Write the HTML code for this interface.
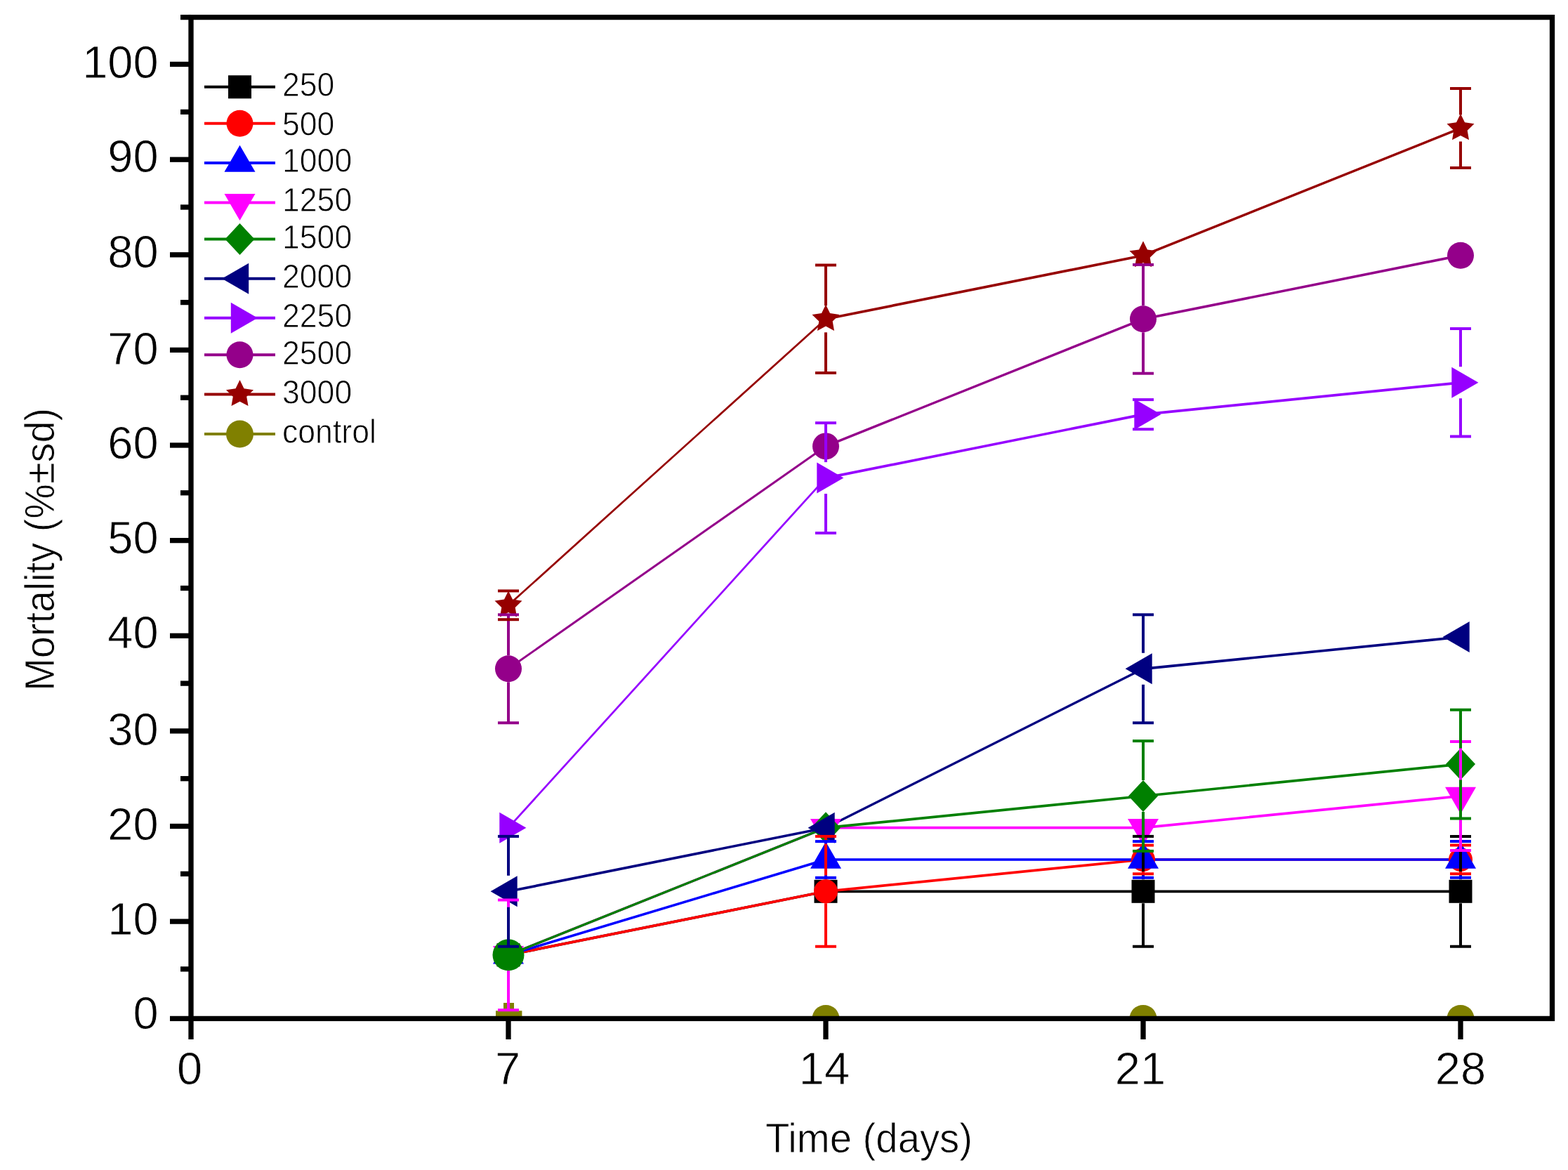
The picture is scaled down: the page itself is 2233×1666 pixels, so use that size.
<!DOCTYPE html><html><head><meta charset="utf-8"><style>html,body{margin:0;padding:0;background:#fff;overflow:hidden;}svg{display:block;}text{font-family:"Liberation Sans",Arial,sans-serif;fill:#000;stroke:#fff;stroke-width:0.8px;}</style></head><body>
<svg width="2233" height="1666" viewBox="0 0 2233 1666">
<rect width="2233" height="1666" fill="#fff"/>
<defs><clipPath id="pc"><rect x="272" y="24.6" width="1938.5" height="1425.8"/></clipPath></defs>
<g clip-path="url(#pc)">
<g fill="none" stroke-linecap="round">
<line x1="724" y1="1359.8" x2="1176" y2="1269.3" stroke="#000000" stroke-width="3.63"/>
<line x1="1176" y1="1269.3" x2="1628" y2="1269.3" stroke="#000000" stroke-width="3.70"/>
<line x1="1628" y1="1269.3" x2="2080" y2="1269.3" stroke="#000000" stroke-width="3.70"/>
<line x1="724" y1="1359.8" x2="1176" y2="1269.3" stroke="#ff0000" stroke-width="3.63"/>
<line x1="1176" y1="1269.3" x2="1628" y2="1224" stroke="#ff0000" stroke-width="3.68"/>
<line x1="1628" y1="1224" x2="2080" y2="1224" stroke="#ff0000" stroke-width="3.70"/>
<line x1="724" y1="1359.8" x2="1176" y2="1224" stroke="#0000ff" stroke-width="3.54"/>
<line x1="1176" y1="1224" x2="1628" y2="1224" stroke="#0000ff" stroke-width="3.70"/>
<line x1="1628" y1="1224" x2="2080" y2="1224" stroke="#0000ff" stroke-width="3.70"/>
<line x1="724" y1="1359.8" x2="1176" y2="1178.7" stroke="#ff00ff" stroke-width="3.43"/>
<line x1="1176" y1="1178.7" x2="1628" y2="1178.7" stroke="#ff00ff" stroke-width="3.70"/>
<line x1="1628" y1="1178.7" x2="2080" y2="1133.5" stroke="#ff00ff" stroke-width="3.68"/>
<line x1="724" y1="1359.8" x2="1176" y2="1178.7" stroke="#008000" stroke-width="3.43"/>
<line x1="1176" y1="1178.7" x2="1628" y2="1133.5" stroke="#008000" stroke-width="3.68"/>
<line x1="1628" y1="1133.5" x2="2080" y2="1088.1" stroke="#008000" stroke-width="3.68"/>
<line x1="724" y1="1269.3" x2="1176" y2="1178.7" stroke="#000080" stroke-width="3.63"/>
<line x1="1176" y1="1178.7" x2="1628" y2="952.3" stroke="#000080" stroke-width="3.31"/>
<line x1="1628" y1="952.3" x2="2080" y2="907" stroke="#000080" stroke-width="3.68"/>
<line x1="724" y1="1178.7" x2="1176" y2="680.6" stroke="#9600ff" stroke-width="2.74"/>
<line x1="1176" y1="680.6" x2="1628" y2="590.1" stroke="#9600ff" stroke-width="3.63"/>
<line x1="1628" y1="590.1" x2="2080" y2="544.8" stroke="#9600ff" stroke-width="3.68"/>
<line x1="724" y1="952.3" x2="1176" y2="635.4" stroke="#94008a" stroke-width="3.03"/>
<line x1="1176" y1="635.4" x2="1628" y2="454.3" stroke="#94008a" stroke-width="3.43"/>
<line x1="1628" y1="454.3" x2="2080" y2="363.7" stroke="#94008a" stroke-width="3.63"/>
<line x1="724" y1="861.8" x2="1176" y2="454.3" stroke="#960000" stroke-width="2.75"/>
<line x1="1176" y1="454.3" x2="1628" y2="363.7" stroke="#960000" stroke-width="3.63"/>
<line x1="1628" y1="363.7" x2="2080" y2="182.6" stroke="#960000" stroke-width="3.43"/>
<line x1="724" y1="1450.4" x2="1176" y2="1450.4" stroke="#808000" stroke-width="3.70"/>
<line x1="1176" y1="1450.4" x2="1628" y2="1450.4" stroke="#808000" stroke-width="3.70"/>
<line x1="1628" y1="1450.4" x2="2080" y2="1450.4" stroke="#808000" stroke-width="3.70"/>
</g>
<rect x="707.5" y="1343.3" width="33" height="33" fill="#000000"/>
<rect x="1159.5" y="1252.8" width="33" height="33" fill="#000000"/>
<rect x="1611.5" y="1252.8" width="33" height="33" fill="#000000"/>
<rect x="2063.5" y="1252.8" width="33" height="33" fill="#000000"/>
<circle cx="724" cy="1359.8" r="17" fill="#ff0000"/>
<circle cx="1176" cy="1269.3" r="17" fill="#ff0000"/>
<circle cx="1628" cy="1224" r="17" fill="#ff0000"/>
<circle cx="2080" cy="1224" r="17" fill="#ff0000"/>
<polygon points="724,1334.4 746,1372.5 702,1372.5" fill="#0000ff"/>
<polygon points="1176,1198.6 1198,1236.7 1154,1236.7" fill="#0000ff"/>
<polygon points="1628,1198.6 1650,1236.7 1606,1236.7" fill="#0000ff"/>
<polygon points="2080,1198.6 2102,1236.7 2058,1236.7" fill="#0000ff"/>
<polygon points="724,1385.2 746,1347.1 702,1347.1" fill="#ff00ff"/>
<polygon points="1176,1204.1 1198,1166 1154,1166" fill="#ff00ff"/>
<polygon points="1628,1204.1 1650,1166 1606,1166" fill="#ff00ff"/>
<polygon points="2080,1158.9 2102,1120.8 2058,1120.8" fill="#ff00ff"/>
<polygon points="724,1337.3 745,1359.8 724,1382.3 703,1359.8" fill="#008000"/>
<circle cx="724" cy="1359.8" r="22.5" fill="#008000"/>
<polygon points="1176,1156.2 1197,1178.7 1176,1201.2 1155,1178.7" fill="#008000"/>
<polygon points="1628,1111 1649,1133.5 1628,1156 1607,1133.5" fill="#008000"/>
<polygon points="2080,1065.6 2101,1088.1 2080,1110.6 2059,1088.1" fill="#008000"/>
<polygon points="698.6,1269.3 736.7,1247.3 736.7,1291.3" fill="#000080"/>
<polygon points="1150.6,1178.7 1188.7,1156.7 1188.7,1200.7" fill="#000080"/>
<polygon points="1602.6,952.3 1640.7,930.3 1640.7,974.3" fill="#000080"/>
<polygon points="2054.6,907 2092.7,885 2092.7,929" fill="#000080"/>
<polygon points="749.4,1178.7 711.3,1156.7 711.3,1200.7" fill="#9600ff"/>
<polygon points="1201.4,680.6 1163.3,658.6 1163.3,702.6" fill="#9600ff"/>
<polygon points="1653.4,590.1 1615.3,568.1 1615.3,612.1" fill="#9600ff"/>
<polygon points="2105.4,544.8 2067.3,522.8 2067.3,566.8" fill="#9600ff"/>
<circle cx="724" cy="952.3" r="19" fill="#94008a"/>
<circle cx="1176" cy="635.4" r="19" fill="#94008a"/>
<circle cx="1628" cy="454.3" r="19" fill="#94008a"/>
<circle cx="2080" cy="363.7" r="19" fill="#94008a"/>
<polygon points="724,841.3 730,853.5 743.5,855.5 733.7,865 736,878.4 724,872.1 712,878.4 714.3,865 704.5,855.5 718,853.5" fill="#960000"/>
<polygon points="1176,433.8 1182,446 1195.5,448 1185.7,457.5 1188,470.9 1176,464.5 1164,470.9 1166.3,457.5 1156.5,448 1170,446" fill="#960000"/>
<polygon points="1628,343.2 1634,355.4 1647.5,357.3 1637.7,366.8 1640,380.3 1628,373.9 1616,380.3 1618.3,366.8 1608.5,357.3 1622,355.4" fill="#960000"/>
<polygon points="2080,162.1 2086,174.3 2099.5,176.3 2089.7,185.8 2092,199.2 2080,192.9 2068,199.2 2070.3,185.8 2060.5,176.3 2074,174.3" fill="#960000"/>
<path d="M706 1439.2H743.4V1452H706Z M717 1428H732V1440H717Z" fill="#808000"/>
<circle cx="1176" cy="1450.4" r="19.5" fill="#808000"/>
<circle cx="1628" cy="1450.4" r="19.5" fill="#808000"/>
<circle cx="2080" cy="1450.4" r="19.5" fill="#808000"/>
<line x1="1628" y1="1190.9" x2="1628" y2="1252.3" stroke="#000000" stroke-width="4.0"/>
<line x1="1628" y1="1286.3" x2="1628" y2="1347.7" stroke="#000000" stroke-width="4.0"/>
<line x1="1613" y1="1190.9" x2="1643" y2="1190.9" stroke="#000000" stroke-width="4.0"/>
<line x1="1613" y1="1347.7" x2="1643" y2="1347.7" stroke="#000000" stroke-width="4.0"/>
<line x1="2080" y1="1190.9" x2="2080" y2="1252.3" stroke="#000000" stroke-width="4.0"/>
<line x1="2080" y1="1286.3" x2="2080" y2="1347.7" stroke="#000000" stroke-width="4.0"/>
<line x1="2065" y1="1190.9" x2="2095" y2="1190.9" stroke="#000000" stroke-width="4.0"/>
<line x1="2065" y1="1347.7" x2="2095" y2="1347.7" stroke="#000000" stroke-width="4.0"/>
<line x1="1176" y1="1190.9" x2="1176" y2="1252.3" stroke="#ff0000" stroke-width="4.0"/>
<line x1="1176" y1="1286.3" x2="1176" y2="1347.7" stroke="#ff0000" stroke-width="4.0"/>
<line x1="1161" y1="1190.9" x2="1191" y2="1190.9" stroke="#ff0000" stroke-width="4.0"/>
<line x1="1161" y1="1347.7" x2="1191" y2="1347.7" stroke="#ff0000" stroke-width="4.0"/>
<line x1="1628" y1="1203.6" x2="1628" y2="1207" stroke="#ff0000" stroke-width="4.0"/>
<line x1="1628" y1="1241" x2="1628" y2="1244.3" stroke="#ff0000" stroke-width="4.0"/>
<line x1="1613" y1="1203.6" x2="1643" y2="1203.6" stroke="#ff0000" stroke-width="4.0"/>
<line x1="1613" y1="1244.3" x2="1643" y2="1244.3" stroke="#ff0000" stroke-width="4.0"/>
<line x1="2080" y1="1203.6" x2="2080" y2="1207" stroke="#ff0000" stroke-width="4.0"/>
<line x1="2080" y1="1241" x2="2080" y2="1244.3" stroke="#ff0000" stroke-width="4.0"/>
<line x1="2065" y1="1203.6" x2="2095" y2="1203.6" stroke="#ff0000" stroke-width="4.0"/>
<line x1="2065" y1="1244.3" x2="2095" y2="1244.3" stroke="#ff0000" stroke-width="4.0"/>
<line x1="1176" y1="1198.1" x2="1176" y2="1201.5" stroke="#0000ff" stroke-width="4.0"/>
<line x1="1176" y1="1246.5" x2="1176" y2="1249.8" stroke="#0000ff" stroke-width="4.0"/>
<line x1="1161" y1="1198.1" x2="1191" y2="1198.1" stroke="#0000ff" stroke-width="4.0"/>
<line x1="1161" y1="1249.8" x2="1191" y2="1249.8" stroke="#0000ff" stroke-width="4.0"/>
<line x1="1628" y1="1198.1" x2="1628" y2="1201.5" stroke="#0000ff" stroke-width="4.0"/>
<line x1="1628" y1="1246.5" x2="1628" y2="1249.8" stroke="#0000ff" stroke-width="4.0"/>
<line x1="1613" y1="1198.1" x2="1643" y2="1198.1" stroke="#0000ff" stroke-width="4.0"/>
<line x1="1613" y1="1249.8" x2="1643" y2="1249.8" stroke="#0000ff" stroke-width="4.0"/>
<line x1="2080" y1="1198.1" x2="2080" y2="1201.5" stroke="#0000ff" stroke-width="4.0"/>
<line x1="2080" y1="1246.5" x2="2080" y2="1249.8" stroke="#0000ff" stroke-width="4.0"/>
<line x1="2065" y1="1198.1" x2="2095" y2="1198.1" stroke="#0000ff" stroke-width="4.0"/>
<line x1="2065" y1="1249.8" x2="2095" y2="1249.8" stroke="#0000ff" stroke-width="4.0"/>
<line x1="724" y1="1281.4" x2="724" y2="1337.3" stroke="#ff00ff" stroke-width="4.0"/>
<line x1="724" y1="1382.3" x2="724" y2="1438.2" stroke="#ff00ff" stroke-width="4.0"/>
<line x1="709" y1="1281.4" x2="739" y2="1281.4" stroke="#ff00ff" stroke-width="4.0"/>
<line x1="709" y1="1438.2" x2="739" y2="1438.2" stroke="#ff00ff" stroke-width="4.0"/>
<line x1="2080" y1="1056.1" x2="2080" y2="1111" stroke="#ff00ff" stroke-width="4.0"/>
<line x1="2080" y1="1156" x2="2080" y2="1210.9" stroke="#ff00ff" stroke-width="4.0"/>
<line x1="2065" y1="1056.1" x2="2095" y2="1056.1" stroke="#ff00ff" stroke-width="4.0"/>
<line x1="2065" y1="1210.9" x2="2095" y2="1210.9" stroke="#ff00ff" stroke-width="4.0"/>
<line x1="1628" y1="1055.1" x2="1628" y2="1111" stroke="#008000" stroke-width="4.0"/>
<line x1="1628" y1="1156" x2="1628" y2="1211.9" stroke="#008000" stroke-width="4.0"/>
<line x1="1613" y1="1055.1" x2="1643" y2="1055.1" stroke="#008000" stroke-width="4.0"/>
<line x1="1613" y1="1211.9" x2="1643" y2="1211.9" stroke="#008000" stroke-width="4.0"/>
<line x1="2080" y1="1010.7" x2="2080" y2="1065.6" stroke="#008000" stroke-width="4.0"/>
<line x1="2080" y1="1110.6" x2="2080" y2="1165.5" stroke="#008000" stroke-width="4.0"/>
<line x1="2065" y1="1010.7" x2="2095" y2="1010.7" stroke="#008000" stroke-width="4.0"/>
<line x1="2065" y1="1165.5" x2="2095" y2="1165.5" stroke="#008000" stroke-width="4.0"/>
<line x1="724" y1="1190.9" x2="724" y2="1246.8" stroke="#000080" stroke-width="4.0"/>
<line x1="724" y1="1291.8" x2="724" y2="1347.7" stroke="#000080" stroke-width="4.0"/>
<line x1="709" y1="1190.9" x2="739" y2="1190.9" stroke="#000080" stroke-width="4.0"/>
<line x1="709" y1="1347.7" x2="739" y2="1347.7" stroke="#000080" stroke-width="4.0"/>
<line x1="1628" y1="875.3" x2="1628" y2="929.8" stroke="#000080" stroke-width="4.0"/>
<line x1="1628" y1="974.8" x2="1628" y2="1029.3" stroke="#000080" stroke-width="4.0"/>
<line x1="1613" y1="875.3" x2="1643" y2="875.3" stroke="#000080" stroke-width="4.0"/>
<line x1="1613" y1="1029.3" x2="1643" y2="1029.3" stroke="#000080" stroke-width="4.0"/>
<line x1="1176" y1="602.2" x2="1176" y2="658.1" stroke="#9600ff" stroke-width="4.0"/>
<line x1="1176" y1="703.1" x2="1176" y2="759" stroke="#9600ff" stroke-width="4.0"/>
<line x1="1161" y1="602.2" x2="1191" y2="602.2" stroke="#9600ff" stroke-width="4.0"/>
<line x1="1161" y1="759" x2="1191" y2="759" stroke="#9600ff" stroke-width="4.0"/>
<line x1="1613" y1="569.1" x2="1643" y2="569.1" stroke="#9600ff" stroke-width="4.0"/>
<line x1="1613" y1="611.2" x2="1643" y2="611.2" stroke="#9600ff" stroke-width="4.0"/>
<line x1="2080" y1="468" x2="2080" y2="522.3" stroke="#9600ff" stroke-width="4.0"/>
<line x1="2080" y1="567.3" x2="2080" y2="621.5" stroke="#9600ff" stroke-width="4.0"/>
<line x1="2065" y1="468" x2="2095" y2="468" stroke="#9600ff" stroke-width="4.0"/>
<line x1="2065" y1="621.5" x2="2095" y2="621.5" stroke="#9600ff" stroke-width="4.0"/>
<line x1="724" y1="875.3" x2="724" y2="933.3" stroke="#94008a" stroke-width="4.0"/>
<line x1="724" y1="971.3" x2="724" y2="1029.3" stroke="#94008a" stroke-width="4.0"/>
<line x1="709" y1="875.3" x2="739" y2="875.3" stroke="#94008a" stroke-width="4.0"/>
<line x1="709" y1="1029.3" x2="739" y2="1029.3" stroke="#94008a" stroke-width="4.0"/>
<line x1="1628" y1="376.9" x2="1628" y2="435.3" stroke="#94008a" stroke-width="4.0"/>
<line x1="1628" y1="473.3" x2="1628" y2="531.7" stroke="#94008a" stroke-width="4.0"/>
<line x1="1613" y1="376.9" x2="1643" y2="376.9" stroke="#94008a" stroke-width="4.0"/>
<line x1="1613" y1="531.7" x2="1643" y2="531.7" stroke="#94008a" stroke-width="4.0"/>
<line x1="724" y1="841.4" x2="724" y2="842.8" stroke="#960000" stroke-width="4.0"/>
<line x1="724" y1="880.8" x2="724" y2="882.2" stroke="#960000" stroke-width="4.0"/>
<line x1="709" y1="841.4" x2="739" y2="841.4" stroke="#960000" stroke-width="4.0"/>
<line x1="709" y1="882.2" x2="739" y2="882.2" stroke="#960000" stroke-width="4.0"/>
<line x1="1176" y1="377.5" x2="1176" y2="435.3" stroke="#960000" stroke-width="4.0"/>
<line x1="1176" y1="473.3" x2="1176" y2="531" stroke="#960000" stroke-width="4.0"/>
<line x1="1161" y1="377.5" x2="1191" y2="377.5" stroke="#960000" stroke-width="4.0"/>
<line x1="1161" y1="531" x2="1191" y2="531" stroke="#960000" stroke-width="4.0"/>
<line x1="2080" y1="126.1" x2="2080" y2="163.6" stroke="#960000" stroke-width="4.0"/>
<line x1="2080" y1="201.6" x2="2080" y2="239.1" stroke="#960000" stroke-width="4.0"/>
<line x1="2065" y1="126.1" x2="2095" y2="126.1" stroke="#960000" stroke-width="4.0"/>
<line x1="2065" y1="239.1" x2="2095" y2="239.1" stroke="#960000" stroke-width="4.0"/>
</g>
<g stroke="#000" stroke-width="7.3" fill="none">
<rect x="272" y="24.6" width="1938.5" height="1425.8"/>
<line x1="242" y1="1450.4" x2="272" y2="1450.4"/>
<line x1="257" y1="1379.9" x2="272" y2="1379.9"/>
<line x1="242" y1="1312.1" x2="272" y2="1312.1"/>
<line x1="257" y1="1244.3" x2="272" y2="1244.3"/>
<line x1="242" y1="1176.5" x2="272" y2="1176.5"/>
<line x1="257" y1="1108.7" x2="272" y2="1108.7"/>
<line x1="242" y1="1040.9" x2="272" y2="1040.9"/>
<line x1="257" y1="973.1" x2="272" y2="973.1"/>
<line x1="242" y1="905.3" x2="272" y2="905.3"/>
<line x1="257" y1="837.5" x2="272" y2="837.5"/>
<line x1="242" y1="769.6" x2="272" y2="769.6"/>
<line x1="257" y1="701.8" x2="272" y2="701.8"/>
<line x1="242" y1="634" x2="272" y2="634"/>
<line x1="257" y1="566.2" x2="272" y2="566.2"/>
<line x1="242" y1="498.4" x2="272" y2="498.4"/>
<line x1="257" y1="430.6" x2="272" y2="430.6"/>
<line x1="242" y1="362.8" x2="272" y2="362.8"/>
<line x1="257" y1="295" x2="272" y2="295"/>
<line x1="242" y1="227.2" x2="272" y2="227.2"/>
<line x1="257" y1="159.4" x2="272" y2="159.4"/>
<line x1="242" y1="91.5" x2="272" y2="91.5"/>
<line x1="257" y1="24.6" x2="272" y2="24.6"/>
<line x1="272" y1="1450.4" x2="272" y2="1480"/>
<line x1="724" y1="1450.4" x2="724" y2="1480"/>
<line x1="1176" y1="1450.4" x2="1176" y2="1480"/>
<line x1="1628" y1="1450.4" x2="1628" y2="1480"/>
<line x1="2080" y1="1450.4" x2="2080" y2="1480"/>
</g>
<text transform="translate(225.6,1465.3) scale(1,1.0)" font-size="65" text-anchor="end">0</text>
<text transform="translate(225.6,1331) scale(1,1.0)" font-size="65" text-anchor="end">10</text>
<text transform="translate(225.6,1195.9) scale(1,1.0)" font-size="65" text-anchor="end">20</text>
<text transform="translate(225.6,1061.1) scale(1,1.0)" font-size="65" text-anchor="end">30</text>
<text transform="translate(225.6,922.8) scale(1,1.0)" font-size="65" text-anchor="end">40</text>
<text transform="translate(225.6,787.7) scale(1,1.0)" font-size="65" text-anchor="end">50</text>
<text transform="translate(225.6,653.4) scale(1,1.0)" font-size="65" text-anchor="end">60</text>
<text transform="translate(225.6,518.9) scale(1,1.0)" font-size="65" text-anchor="end">70</text>
<text transform="translate(225.6,380.5) scale(1,1.0)" font-size="65" text-anchor="end">80</text>
<text transform="translate(225.6,245.4) scale(1,1.0)" font-size="65" text-anchor="end">90</text>
<text transform="translate(225.6,111.1) scale(1,1.0)" font-size="65" text-anchor="end">100</text>
<text transform="translate(270,1544) scale(1,1.0)" font-size="65" text-anchor="middle">0</text>
<text transform="translate(723,1544) scale(1,1.0)" font-size="65" text-anchor="middle">7</text>
<text transform="translate(1174,1544) scale(1,1.0)" font-size="65" text-anchor="middle">14</text>
<text transform="translate(1624,1544) scale(1,1.0)" font-size="65" text-anchor="middle">21</text>
<text transform="translate(2080,1544) scale(1,1.0)" font-size="65" text-anchor="middle">28</text>
<text transform="translate(1237.5,1641) scale(1,1.05)" font-size="56.3" text-anchor="middle">Time (days)</text>
<text transform="translate(77,782.3) rotate(-90) scale(1,1.058)" font-size="55.8" text-anchor="middle">Mortality (%±sd)</text>
<line x1="291" y1="123.8" x2="392" y2="123.8" stroke="#000000" stroke-width="4"/>
<rect x="325" y="107.3" width="33" height="33" fill="#000000"/>
<text transform="translate(402,136.8) scale(1,1.08)" font-size="44.6">250</text>
<line x1="291" y1="175.8" x2="392" y2="175.8" stroke="#ff0000" stroke-width="4"/>
<circle cx="341.5" cy="175.8" r="19" fill="#ff0000"/>
<text transform="translate(402,192.8) scale(1,1.08)" font-size="44.6">500</text>
<line x1="291" y1="232.1" x2="392" y2="232.1" stroke="#0000ff" stroke-width="4"/>
<polygon points="341.5,206.7 363.5,244.8 319.5,244.8" fill="#0000ff"/>
<text transform="translate(402,245.2) scale(1,1.08)" font-size="44.6">1000</text>
<line x1="291" y1="288.6" x2="392" y2="288.6" stroke="#ff00ff" stroke-width="4"/>
<polygon points="341.5,314 363.5,275.9 319.5,275.9" fill="#ff00ff"/>
<text transform="translate(402,301.4) scale(1,1.08)" font-size="44.6">1250</text>
<line x1="291" y1="340.6" x2="392" y2="340.6" stroke="#008000" stroke-width="4"/>
<polygon points="341.5,318.1 362.5,340.6 341.5,363.1 320.5,340.6" fill="#008000"/>
<text transform="translate(402,354) scale(1,1.08)" font-size="44.6">1500</text>
<line x1="291" y1="396.8" x2="392" y2="396.8" stroke="#000080" stroke-width="4"/>
<polygon points="316.1,396.8 354.2,374.8 354.2,418.8" fill="#000080"/>
<text transform="translate(402,410) scale(1,1.08)" font-size="44.6">2000</text>
<line x1="291" y1="452.8" x2="392" y2="452.8" stroke="#9600ff" stroke-width="4"/>
<polygon points="366.9,452.8 328.8,430.8 328.8,474.8" fill="#9600ff"/>
<text transform="translate(402,466.3) scale(1,1.08)" font-size="44.6">2250</text>
<line x1="291" y1="505.3" x2="392" y2="505.3" stroke="#94008a" stroke-width="4"/>
<circle cx="341.5" cy="505.3" r="19" fill="#94008a"/>
<text transform="translate(402,518.5) scale(1,1.08)" font-size="44.6">2500</text>
<line x1="291" y1="561.5" x2="392" y2="561.5" stroke="#960000" stroke-width="4"/>
<polygon points="341.5,541 347.5,553.2 361,555.2 351.2,564.7 353.5,578.1 341.5,571.8 329.5,578.1 331.8,564.7 322,555.2 335.5,553.2" fill="#960000"/>
<text transform="translate(402,574.6) scale(1,1.08)" font-size="44.6">3000</text>
<line x1="291" y1="618.1" x2="392" y2="618.1" stroke="#808000" stroke-width="4"/>
<circle cx="341.5" cy="618.1" r="19.5" fill="#808000"/>
<text transform="translate(402,631.2) scale(1,1.08)" font-size="44.6">control</text>
</svg></body></html>
